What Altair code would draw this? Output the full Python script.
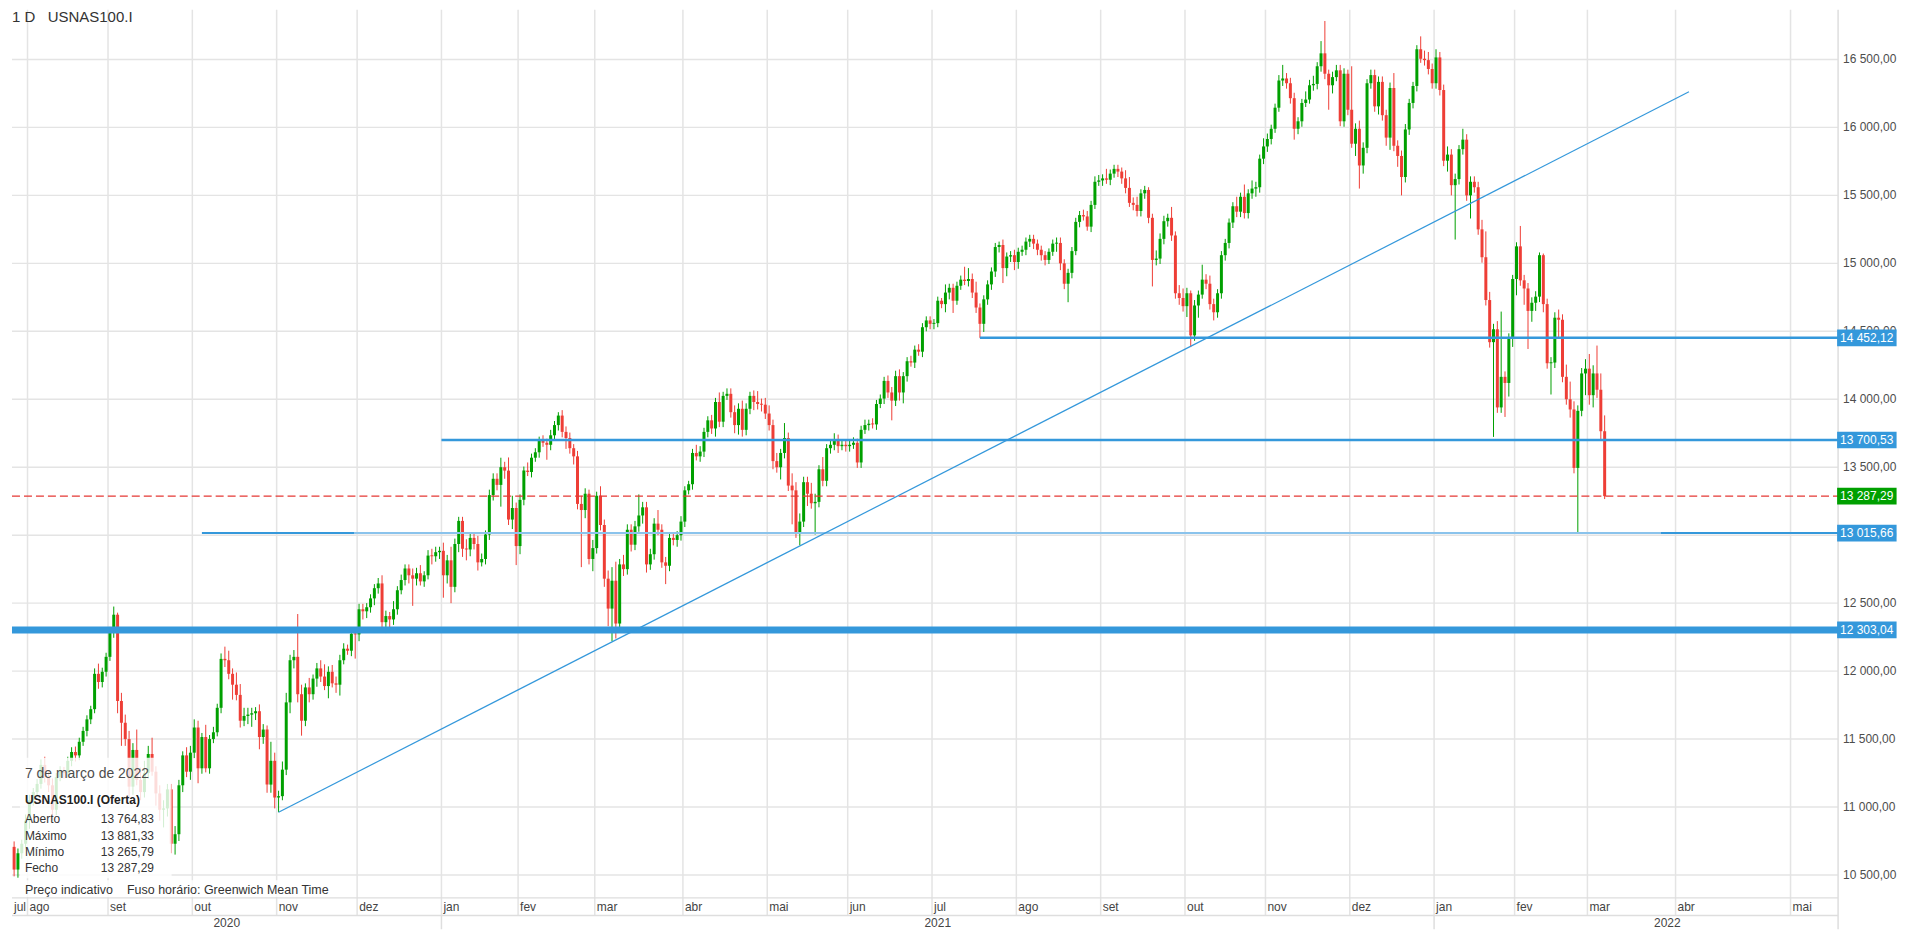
import altair as alt
import pandas as pd

# ------------------------------------------------------------------ data
FIRST_OPEN = 10707.0
FIRST_DAY = "2020-07-28"
# one tuple per trading day: (close, wick above body, wick below body)
JUL_2020 = [(10540, 40, 50), (10660, 35, 60), (10730, 30, 40), (10900, 45, 35)]
AUG_2020 = [(11050, 40, 60), (11110, 30, 40), (11170, 35, 30), (11310, 40, 35), (11220, 60, 40), (11160, 45, 50),
            (10980, 50, 80), (11220, 30, 40), (11260, 40, 30), (11250, 35, 40), (11340, 30, 35), (11405, 35, 40),
            (11380, 40, 45), (11480, 30, 35), (11560, 30, 30), (11645, 30, 40), (11720, 25, 35), (11980, 40, 30),
            (11920, 75, 50), (11995, 30, 40), (12105, 30, 35)]
SEP_2020 = [(12285, 40, 30), (12415, 60, 40), (11780, 15, 90), (11620, 60, 170), (11500, 60, 50), (11150, 60, 80),
            (11420, 50, 60), (11200, 150, 40), (11110, 90, 60), (11250, 90, 40), (11390, 60, 40), (11260, 120, 30),
            (11100, 40, 90), (10980, 60, 80), (10990, 60, 130), (11130, 40, 60), (10730, 40, 70), (10800, 60, 80),
            (11160, 40, 50), (11380, 30, 50), (11260, 60, 40), (11400, 50, 60)]
OCT_2020 = [(11585, 60, 40), (11285, 50, 110), (11515, 30, 40), (11285, 90, 30), (11500, 30, 40), (11550, 40, 30),
            (11730, 30, 30), (12090, 40, 40), (12080, 90, 50), (11980, 70, 40), (11900, 40, 110), (11825, 90, 40),
            (11635, 80, 50), (11670, 60, 40), (11680, 50, 60), (11690, 40, 90), (11705, 30, 50), (11515, 50, 90),
            (11570, 40, 50), (11165, 30, 60), (11340, 140, 60), (11070, 60, 80)]
NOV_2020 = [(11080, 40, 108), (11275, 60, 30), (11770, 70, 40), (12080, 40, 80), (12105, 50, 60), (11830, 315, 60),
            (11635, 70, 110), (11880, 30, 40), (11830, 70, 60), (11945, 30, 40), (12020, 40, 60), (11960, 60, 40),
            (11890, 90, 30), (11995, 40, 90), (11910, 50, 30), (11900, 50, 60), (12080, 40, 80), (12165, 40, 30),
            (12150, 30, 30), (12275, 30, 40), (12270, 30, 178)]
DEC_2020 = [(12455, 40, 50), (12440, 40, 60), (12470, 30, 50), (12535, 30, 40), (12610, 30, 50), (12645, 40, 40),
            (12360, 60, 40), (12405, 40, 80), (12380, 30, 90), (12455, 60, 40), (12595, 30, 40), (12670, 40, 30),
            (12755, 30, 40), (12705, 30, 60), (12680, 50, 200), (12720, 40, 50), (12660, 60, 30), (12705, 30, 40),
            (12850, 40, 30), (12845, 50, 60), (12875, 40, 40), (12885, 30, 50)]
JAN_2021 = [(12705, 60, 165), (12815, 40, 60), (12620, 100, 120), (12935, 40, 40), (13105, 30, 60), (12900, 30, 60),
            (12895, 70, 80), (12980, 40, 50), (12935, 40, 40), (12800, 60, 60), (12825, 40, 30), (13005, 30, 40),
            (13295, 40, 40), (13415, 40, 40), (13370, 40, 40), (13500, 70, 160), (13475, 40, 60), (13115, 97, 40),
            (13200, 90, 70), (12920, 40, 140)]
FEB_2021 = [(13260, 40, 60), (13475, 30, 40), (13465, 60, 30), (13570, 30, 40), (13610, 30, 30), (13695, 30, 40),
            (13680, 40, 30), (13665, 30, 110), (13735, 40, 40), (13810, 30, 40), (13880, 25, 40), (13760, 40, 40),
            (13715, 40, 80), (13640, 40, 40), (13580, 30, 60), (13230, 40, 40), (13185, 60, 420), (13305, 40, 60),
            (12825, 30, 40), (12905, 60, 90)]
MAR_2021 = [(13290, 30, 40), (13075, 70, 40), (12680, 40, 60), (12460, 60, 130), (12665, 100, 240), (12350, 140, 110),
            (12785, 40, 40), (12750, 70, 50), (13040, 40, 40), (12930, 40, 50), (13065, 40, 40), (13145, 155, 40),
            (13205, 40, 60), (12785, 40, 60), (12860, 40, 40), (13085, 40, 40), (13040, 100, 40), (12800, 40, 40),
            (12775, 40, 135), (12980, 40, 40), (12965, 40, 40), (13000, 30, 50), (13100, 40, 40)]
APR_2021 = [(13330, 30, 40), (13375, 25, 30), (13605, 30, 40), (13580, 60, 30), (13615, 40, 40), (13760, 30, 40),
            (13845, 30, 40), (13785, 40, 40), (13980, 30, 60), (13835, 70, 40), (14025, 30, 40), (14040, 40, 30),
            (13905, 40, 40), (13810, 50, 60), (13930, 40, 70), (13775, 60, 50), (13930, 40, 40), (14025, 30, 40),
            (13980, 40, 60), (13965, 80, 40), (13960, 40, 50), (13895, 50, 40)]
MAY_2021 = [(13810, 60, 40), (13545, 40, 60), (13500, 60, 40), (13605, 30, 90), (13715, 110, 40), (13365, 40, 40),
            (13330, 90, 250), (13015, 60, 35), (13100, 60, 90), (13390, 40, 40), (13305, 40, 90), (13235, 80, 40),
            (13245, 60, 230), (13485, 30, 40), (13400, 90, 40), (13640, 30, 40), (13665, 40, 40), (13700, 50, 40),
            (13655, 40, 50), (13665, 40, 30), (13655, 30, 40)]
JUN_2021 = [(13665, 40, 40), (13680, 40, 30), (13535, 30, 40), (13775, 30, 40), (13810, 40, 30), (13820, 30, 40),
            (13815, 40, 30), (13965, 30, 40), (14005, 30, 30), (14135, 30, 40), (14050, 40, 40), (13990, 40, 145),
            (14170, 40, 40), (14050, 50, 60), (14170, 30, 80), (14280, 30, 40), (14270, 40, 30), (14365, 30, 40),
            (14350, 40, 30), (14530, 30, 40), (14580, 30, 30), (14555, 30, 40)]
JUL_2021 = [(14560, 30, 40), (14725, 30, 30), (14700, 20, 30), (14785, 60, 60), (14820, 30, 50), (14725, 30, 90),
            (14835, 30, 30), (14880, 30, 30), (14870, 95, 30), (14885, 80, 40), (14785, 40, 40), (14675, 80, 40),
            (14555, 30, 102.88), (14735, 30, 60), (14845, 30, 40), (14940, 30, 40), (15120, 30, 40), (15135, 25, 40),
            (14965, 40, 110), (15050, 30, 60), (15060, 30, 40), (15010, 40, 60)]
AUG_2021 = [(15085, 30, 50), (15100, 30, 30), (15160, 30, 40), (15180, 30, 40), (15145, 30, 40), (15100, 30, 40),
            (15060, 30, 40), (15025, 30, 40), (15085, 25, 30), (15145, 30, 30), (15150, 40, 60), (15000, 40, 50),
            (14850, 30, 40), (14930, 30, 136), (15090, 30, 40), (15305, 30, 30), (15355, 30, 40), (15345, 40, 30),
            (15270, 40, 30), (15430, 30, 40), (15600, 40, 30), (15610, 40, 30)]
SEP_2021 = [(15625, 30, 40), (15615, 70, 30), (15660, 30, 40), (15695, 30, 30), (15675, 30, 40), (15625, 30, 40),
            (15555, 60, 40), (15445, 80, 30), (15430, 40, 40), (15385, 60, 40), (15515, 30, 40), (15540, 30, 40),
            (15335, 20, 40), (15025, 30, 195), (15035, 60, 40), (15180, 40, 40), (15310, 40, 40), (15335, 30, 40),
            (15205, 80, 40), (14780, 30, 40), (14745, 60, 50), (14685, 70, 40)]
OCT_2021 = [(14780, 40, 80), (14470, 20, 86), (14690, 40, 40), (14770, 30, 90), (14880, 110, 30), (14850, 40, 40),
            (14700, 60, 40), (14640, 40, 60), (14780, 30, 40), (15060, 30, 40), (15150, 30, 40), (15300, 30, 40),
            (15420, 30, 40), (15380, 70, 40), (15490, 30, 40), (15370, 90, 40), (15515, 30, 40), (15550, 60, 40),
            (15560, 40, 60), (15770, 30, 40), (15860, 60, 40)]
NOV_2021 = [(15915, 40, 40), (15990, 30, 40), (16145, 30, 30), (16345, 40, 30), (16360, 100, 40), (16325, 40, 40),
            (16215, 40, 40), (15990, 40, 80), (16045, 30, 40), (16180, 30, 40), (16205, 60, 30), (16310, 40, 30),
            (16320, 60, 40), (16450, 30, 40), (16545, 90, 40), (16395, 238, 40), (16310, 30, 180), (16370, 40, 60),
            (16420, 40, 30), (16045, 40, 36), (16395, 40, 40), (16130, 30, 40)]
DEC_2021 = [(15880, 320, 30), (15990, 40, 90), (15720, 60, 170), (15850, 40, 60), (16325, 30, 40), (16385, 40, 40),
            (16155, 40, 40), (16335, 40, 60), (16090, 40, 40), (15925, 40, 60), (16290, 40, 90), (15865, 110, 40),
            (15790, 40, 80), (15635, 40, 135), (15985, 40, 40), (16180, 30, 40), (16305, 30, 40), (16575, 30, 40),
            (16505, 95, 30), (16495, 60, 40), (16430, 60, 40), (16325, 40, 40)]
JAN_2022 = [(16515, 60, 40), (16275, 40, 40), (15755, 40, 40), (15800, 60, 80), (15575, 40, 75), (15620, 40, 400),
            (15840, 30, 40), (15910, 80, 40), (15500, 40, 40), (15600, 40, 170), (15560, 40, 40), (15250, 40, 40),
            (15045, 70, 40), (14730, 190, 40), (14420, 60, 40), (14515, 40, 697), (13940, 60, 40), (14165, 480, 40),
            (14120, 40, 250), (14445, 40, 100), (14885, 30, 60)]
FEB_2022 = [(15125, 30, 120), (14875, 150, 40), (14815, 40, 120), (14650, 40, 280), (14710, 40, 80), (14755, 40, 60),
            (15060, 20, 40), (14700, 12, 60), (14265, 40, 40), (14270, 40, 230), (14600, 40, 40), (14585, 60, 140),
            (14165, 40, 40), (14000, 90, 40), (13925, 130, 60), (13495, 60, 40), (13915, 40, 479.34), (14190, 40, 40),
            (14225, 70, 160)]
MAR_2022 = [(14030, 108, 70), (14190, 60, 90), (14070, 205, 60), (13764.83, 120, 60), (13287.29, 116.5, 21.5)]

MONTH_DATA = [("2020-07", JUL_2020), ("2020-08", AUG_2020), ("2020-09", SEP_2020), ("2020-10", OCT_2020),
              ("2020-11", NOV_2020), ("2020-12", DEC_2020), ("2021-01", JAN_2021), ("2021-02", FEB_2021),
              ("2021-03", MAR_2021), ("2021-04", APR_2021), ("2021-05", MAY_2021), ("2021-06", JUN_2021),
              ("2021-07", JUL_2021), ("2021-08", AUG_2021), ("2021-09", SEP_2021), ("2021-10", OCT_2021),
              ("2021-11", NOV_2021), ("2021-12", DEC_2021), ("2022-01", JAN_2022), ("2022-02", FEB_2022),
              ("2022-03", MAR_2022)]
HOLIDAYS = ["2020-12-25", "2021-01-01", "2021-12-24", "2022-02-21"]

SUPPORT_LEVELS = [14452.12, 13700.53, 13015.66, 12303.04]
SUPPORT_START = ["2021-07-19", "2021-01-04", "2020-10-05", None]
TREND_DATES = ["2020-11-02", "2022-04-04"]
TREND_VALUES = [10962.0, 16262.0]
AXIS_VALUES = [10500, 11000, 11500, 12000, 12500, 13000, 13500, 14000, 14500, 15000, 15500, 16000, 16500]
MONTH_ABBR = ["jan", "fev", "mar", "abr", "mai", "jun", "jul", "ago", "set", "out", "nov", "dez"]
MONTH_FULL = ["janeiro", "fevereiro", "março", "abril", "maio", "junho", "julho", "agosto", "setembro",
              "outubro", "novembro", "dezembro"]
TITLE_LEFT = ["1 D", "USNAS100.I"]
LEGEND_TITLE = "USNAS100.I (Oferta)"
LEGEND_ROWS = ["Aberto", "Máximo", "Mínimo", "Fecho"]
FOOTER = ["Preço indicativo", "Fuso horário: Greenwich Mean Time"]

# ------------------------------------------------------------------ layout
REF_W, REF_H = 1905, 938
SX, SY = 0.993, 921 / REF_H
X0, DX = 17.6, 3.866          # reference px of first August bar, px per bar
Y0, K = 50.7, 0.13866         # reference px of 16500, px per point
PLOT_R = 1842
LX = -7                       # left overlay shift (compensates the page margin)
FONT = "Liberation Sans"
GREEN, RED = "#00a000", "#ee3e36"
BLUE, LIGHT_BLUE = "#3498db", "#8ac3ec"
GRID = "#e4e4e4"


def P(xr):
    return (xr - X0) / DX


def V(yr):
    return 16500 - (yr - Y0) / K


def fmt(v):
    return f"{v:,.2f}".replace(",", " ").replace(".", ",")


xs = alt.Scale(domain=[P(0), P(PLOT_R)], nice=False, zero=False)
ys = alt.Scale(domain=[V(REF_H), V(0)], nice=False, zero=False)


def ex(f):
    return alt.X(f"{f}:Q", scale=xs, axis=None)


def ey(f):
    return alt.Y(f"{f}:Q", scale=ys, axis=None)


# ------------------------------------------------------------------ calendar
hol = pd.to_datetime(HOLIDAYS)
wdays = pd.bdate_range("2020-07-01", "2022-03-31")
wdays = wdays[~wdays.isin(hol)]
slots = list(wdays) + list(pd.date_range("2022-04-01", "2022-05-31"))
base = slots.index(pd.Timestamp("2020-08-03"))
POS = {d: i - base for i, d in enumerate(slots)}

rows = []
prev = FIRST_OPEN
start = pd.Timestamp(FIRST_DAY)
for key, vals in MONTH_DATA:
    days = [d for d in wdays if d.strftime("%Y-%m") == key and d >= start]
    for d, (c, up, dn) in zip(days, vals):
        o = prev
        rows.append({"date": d, "p": POS[d], "o": o, "c": c,
                     "h": max(o, c) + up, "l": min(o, c) - dn,
                     "dir": "up" if c >= o else "down"})
        prev = c
cd = pd.DataFrame(rows)
cd["b_lo"] = cd[["o", "c"]].min(axis=1)
cd["b_hi"] = cd[["o", "c"]].max(axis=1).clip(lower=cd["b_lo"] + 7)
cd["x1"] = cd["p"] - 0.39
cd["x2"] = cd["p"] + 0.39
last = cd.iloc[-1]

mrows = []
for per in pd.period_range("2020-07", "2022-05", freq="M"):
    first = next(d for d in slots if d.year == per.year and d.month == per.month)
    g = POS[first] - 0.5
    mrows.append({"g": g, "lab": MONTH_ABBR[per.month - 1], "lx": max(g, P(0)),
                  "month": per.month, "y": V(915.5)})
md = pd.DataFrame(mrows)
grid_d = md[md["g"] > P(0)].copy()
grid_d["y1"] = V(0)
grid_d["y2"] = V(924)
jan = md[md["month"] == 1]["g"].tolist()
years = pd.DataFrame({"x": [(P(0) + jan[0]) / 2, (jan[0] + jan[1]) / 2, (jan[1] + P(REF_W)) / 2],
                      "lab": ["2020", "2021", "2022"], "y": V(931.5)})
ysep = pd.DataFrame({"x": jan, "y1": V(924), "y2": V(REF_H)})
rowlines = pd.DataFrame({"x1": [P(0), P(0)], "x2": [P(PLOT_R), P(PLOT_R)], "y": [V(906), V(924)]})
border = pd.DataFrame({"x": [P(PLOT_R)], "y1": [V(0)], "y2": [V(REF_H)]})

# price scale on the right (grid + labels)
yax = pd.DataFrame({"v": AXIS_VALUES, "label": [fmt(v) for v in AXIS_VALUES]})
yax["x1"] = P(0)
yax["x2"] = P(PLOT_R)
yax["tx"] = P(1847)

# ------------------------------------------------------------------ drawings
s0 = POS[pd.Timestamp(SUPPORT_START[0])]
s1 = POS[pd.Timestamp(SUPPORT_START[1])] - 0.5
s2 = POS[pd.Timestamp(SUPPORT_START[2])]
levels = pd.DataFrame([
    {"x1": s0, "x2": P(PLOT_R), "v": SUPPORT_LEVELS[0], "w": 2.4, "col": BLUE},
    {"x1": s1, "x2": P(PLOT_R), "v": SUPPORT_LEVELS[1], "w": 2.4, "col": BLUE},
    {"x1": s2, "x2": P(345), "v": SUPPORT_LEVELS[2], "w": 2.0, "col": BLUE},
    {"x1": P(345), "x2": P(1663), "v": SUPPORT_LEVELS[2], "w": 2.0, "col": LIGHT_BLUE},
    {"x1": P(1663), "x2": P(PLOT_R), "v": SUPPORT_LEVELS[2], "w": 2.0, "col": BLUE},
    {"x1": P(0), "x2": P(PLOT_R), "v": SUPPORT_LEVELS[3], "w": 7.0, "col": BLUE},
])
dashed = pd.DataFrame({"x1": [P(0)], "x2": [P(PLOT_R)], "v": [last["c"]]})
trend = pd.DataFrame({"p1": [POS[pd.Timestamp(TREND_DATES[0])]], "p2": [POS[pd.Timestamp(TREND_DATES[1])]],
                      "v1": [TREND_VALUES[0]], "v2": [TREND_VALUES[1]]})

box_vals = SUPPORT_LEVELS + [last["c"]]
boxes = pd.DataFrame({"v": box_vals, "label": [fmt(v) for v in box_vals],
                      "col": [BLUE] * 4 + [GREEN]})
boxes["lo"] = boxes["v"] - 8.5 / K
boxes["hi"] = boxes["v"] + 8.5 / K
boxes["bx1"] = P(1841)
boxes["bx2"] = P(1901)
boxes["tx"] = P(1844)

# legend panel
panel = pd.DataFrame({"x1": [P(15 + LX), P(15 + LX)], "x2": [P(168 + LX), P(328 + LX)],
                      "y1": [V(763), V(888)], "y2": [V(886), V(905)]})
d = last["date"]
date_str = f"{d.day} de {MONTH_FULL[d.month - 1]} de {d.year}"
vals = [last["o"], last["h"], last["l"], last["c"]]
row_y = [825.5, 842.5, 859.0, 875.5]
texts = [(0, 7, TITLE_LEFT[0], 15, "#333333"), (36, 7, TITLE_LEFT[1], 15, "#333333"),
         (20 + LX, 780, date_str, 14, "#4d4d4d"),
         (20 + LX, 897.5, FOOTER[0], 12.5, "#333333"), (123 + LX, 897.5, FOOTER[1], 12.5, "#333333")]
for lab, val, yy in zip(LEGEND_ROWS, vals, row_y):
    texts.append((20 + LX, yy, lab, 12, "#333333"))
    texts.append((96.5 + LX, yy, fmt(val), 12, "#333333"))
tdf = pd.DataFrame([{"x": P(a), "y": V(b), "t": t, "s": s, "col": c} for a, b, t, s, c in texts])
bold = pd.DataFrame({"x": [P(20 + LX)], "y": [V(806)], "t": [LEGEND_TITLE]})

# ------------------------------------------------------------------ chart
color_dir = alt.Color("dir:N", scale=alt.Scale(domain=["up", "down"], range=[GREEN, RED]), legend=None)

layers = [
    alt.Chart(yax).mark_rule(color=GRID, strokeWidth=1.4).encode(x=ex("x1"), x2="x2", y=ey("v")),
    alt.Chart(yax).mark_text(align="left", baseline="middle", font=FONT, fontSize=12, color="#4d4d4d").encode(
        x=ex("tx"), y=ey("v"), text="label:N"),
    alt.Chart(grid_d).mark_rule(color=GRID, strokeWidth=1.5).encode(x=ex("g"), y=ey("y1"), y2="y2"),
    alt.Chart(rowlines).mark_rule(color="#dedede", strokeWidth=1.5).encode(x=ex("x1"), x2="x2", y=ey("y")),
    alt.Chart(ysep).mark_rule(color="#dedede", strokeWidth=1.5).encode(x=ex("x"), y=ey("y1"), y2="y2"),
    alt.Chart(border).mark_rule(color="#dedede", strokeWidth=1.5).encode(x=ex("x"), y=ey("y1"), y2="y2"),
    alt.Chart(cd).mark_rule(strokeWidth=1).encode(x=ex("p"), y=ey("l"), y2="h", color=color_dir),
    alt.Chart(cd).mark_rect().encode(x=ex("x1"), x2="x2", y=ey("b_lo"), y2="b_hi", color=color_dir),
    alt.Chart(levels).mark_rule().encode(x=ex("x1"), x2="x2", y=ey("v"),
                                         size=alt.Size("w:Q", scale=None),
                                         color=alt.Color("col:N", scale=None)),
    alt.Chart(dashed).mark_rule(color="#e53935", strokeWidth=1.2, strokeDash=[8, 4]).encode(
        x=ex("x1"), x2="x2", y=ey("v")),
    alt.Chart(trend).mark_rule(color=BLUE, strokeWidth=1.2).encode(x=ex("p1"), x2="p2", y=ey("v1"), y2="v2"),
    alt.Chart(boxes).mark_rect().encode(x=ex("bx1"), x2="bx2", y=ey("lo"), y2="hi",
                                        color=alt.Color("col:N", scale=None)),
    alt.Chart(boxes).mark_text(align="left", baseline="middle", color="white", font=FONT, fontSize=12).encode(
        x=ex("tx"), y=ey("v"), text="label:N"),
    alt.Chart(panel).mark_rect(color="white", opacity=0.82).encode(x=ex("x1"), x2="x2", y=ey("y1"), y2="y2"),
    alt.Chart(tdf).mark_text(align="left", baseline="middle", font=FONT).encode(
        x=ex("x"), y=ey("y"), text="t:N", size=alt.Size("s:Q", scale=None),
        color=alt.Color("col:N", scale=None)),
    alt.Chart(bold).mark_text(align="left", baseline="middle", font=FONT, fontSize=12, fontWeight="bold",
                              color="#222222").encode(x=ex("x"), y=ey("y"), text="t:N"),
    alt.Chart(md).mark_text(align="left", baseline="middle", font=FONT, fontSize=12, color="#444444", dx=2).encode(
        x=ex("lx"), y=ey("y"), text="lab:N"),
    alt.Chart(years).mark_text(align="center", baseline="middle", font=FONT, fontSize=12, color="#444444").encode(
        x=ex("x"), y=ey("y"), text="lab:N"),
]

chart = alt.layer(*layers).properties(
    width=PLOT_R * SX, height=REF_H * SY, padding=0, background="white"
).configure_view(stroke=None)

chart.save("out.html", embed_options={"renderer": "svg", "actions": False})
